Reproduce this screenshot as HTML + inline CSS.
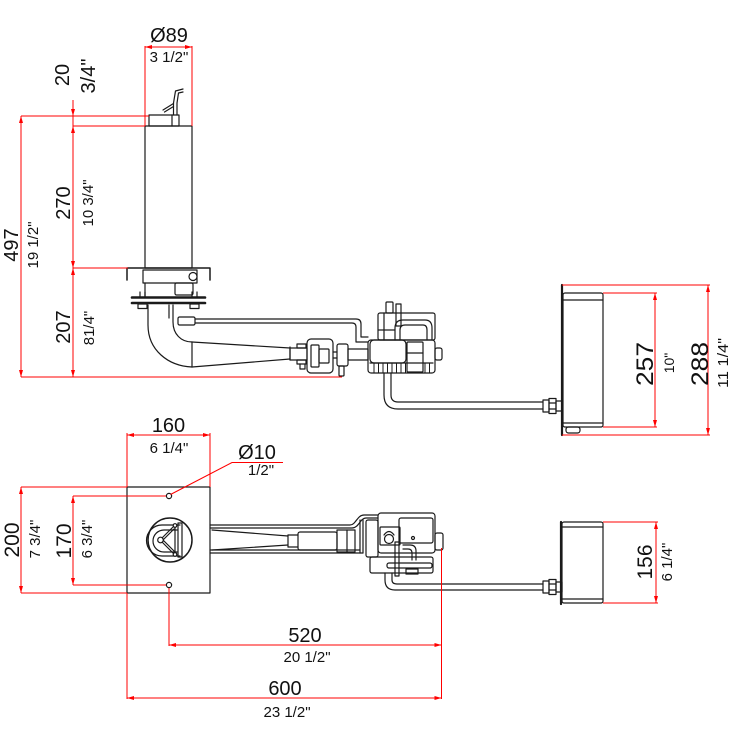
<!DOCTYPE html>
<html><head><meta charset="utf-8"><style>
html,body{margin:0;padding:0;background:#fff;}
svg{display:block;}
text{font-family:"Liberation Sans",Arial,sans-serif;fill:#111;}
</style></head><body>
<svg width="730" height="730" viewBox="0 0 730 730" xmlns="http://www.w3.org/2000/svg">
<rect width="730" height="730" fill="#fff"/>

<!-- ===== TOP VIEW (side elevation) mechanical ===== -->
<g fill="none" stroke="#1a1a1a" stroke-width="1.2" stroke-linejoin="round" stroke-linecap="round">
  <!-- cylinder -->
  <rect x="145" y="126" width="47" height="142"/>
  <!-- cap -->
  <rect x="149" y="115" width="30" height="11"/>
  <line x1="172" y1="115" x2="172" y2="126"/>
  <!-- handle -->
  <path d="M173.5,115 L173.5,103 L175.5,91 L183,89"/>
  <path d="M177,115 L177,103 L178.5,93 L183,92"/>
  <path d="M163,110 L173.5,103.5 M164.5,112 L173.5,106.5"/>
  <!-- flange top plate -->
  <path d="M127,280 L127,268 L210,268 L210,280" stroke-width="1.5"/>
  <!-- collar -->
  <rect x="143" y="270" width="54" height="13"/>
  <circle cx="193" cy="276.5" r="4" fill="#fff"/>
  <rect x="175" y="283" width="18" height="12" rx="1.5"/>
  <line x1="145" y1="283" x2="145" y2="297"/>
  <!-- plates -->
  <line x1="132" y1="297.5" x2="205" y2="297.5" stroke-width="2.6"/>
  <line x1="132" y1="303" x2="205" y2="303" stroke-width="2.6"/>
  <rect x="138" y="304" width="9" height="4.5"/>
  <rect x="190" y="304" width="9" height="4.5"/>
  <line x1="140" y1="292" x2="140" y2="297"/><line x1="145" y1="292" x2="145" y2="297"/>
  <line x1="192" y1="292" x2="192" y2="297"/><line x1="197" y1="292" x2="197" y2="297"/>
  <!-- elbow pipe -->
  <path d="M148,305 L148,325 C148,350 168,366 192,367"/>
  <path d="M173,305 L173,322 C173,334 181,342 192,342"/>
  <line x1="169" y1="305" x2="169" y2="318"/>
  <rect x="178" y="317" width="17" height="8" rx="1.5"/>
  <line x1="192" y1="342" x2="192" y2="367"/>
  <!-- tapered arm -->
  <path d="M192,342 L290,348 M192,367 L290,359"/>
  <line x1="290" y1="347" x2="290" y2="360"/>
  <rect x="290" y="348" width="17" height="12"/>
  <rect x="297" y="344" width="9" height="4"/>
  <rect x="297" y="360" width="9" height="4"/>
  <path d="M300,364 L300,369 L305,369 L305,364"/>
  <!-- coupling box -->
  <rect x="307" y="339" width="26" height="34" rx="4"/>
  <rect x="311" y="345" width="8" height="22" rx="1"/>
  <rect x="319" y="349" width="10" height="14" rx="1"/>
  <line x1="333" y1="352" x2="337" y2="352"/><line x1="333" y1="358" x2="337" y2="358"/>
  <rect x="337" y="344" width="11" height="22" rx="2"/>
  <rect x="339" y="366" width="5" height="10" rx="1"/>
  <rect x="348" y="349" width="20" height="11"/>
  <!-- top pipe -->
  <path d="M195,319 L356,319 Q361,319 361,324 L361,337 L368,337"/>
  <path d="M195,323 L352,323 Q356,323 356,327 L356,342 L368,342"/>
  <!-- valve body -->
  <rect x="368" y="340" width="67" height="33" rx="3"/>
  <rect x="370" y="340" width="36" height="23" rx="4"/>
  <rect x="407" y="342" width="16" height="30" rx="1"/>
  <line x1="407" y1="353" x2="423" y2="353"/>
  <line x1="370" y1="363" x2="433" y2="363"/>
  <path d="M374,363V373 M378.5,363V373 M383,363V373 M387.5,363V373 M392,363V373 M396.5,363V373 M401,363V373 M405.5,363V373 M425,363V373 M429.5,363V373" stroke-width="1"/>
  <!-- valve upper -->
  <rect x="378" y="313" width="57" height="27" rx="2"/>
  <path d="M395,340 L395,328 Q395,320 403,320 L425,320 Q432,320 432,328 L432,340"/>
  <path d="M400,340 L400,330 Q400,325 405,325 L423,325 Q427,325 427,330 L427,340"/>
  <rect x="396" y="304" width="5" height="22"/>
  <rect x="386" y="302" width="7" height="11" rx="1"/>
  <line x1="384" y1="313" x2="384" y2="340"/>
  <line x1="378" y1="330" x2="395" y2="330"/>
  <!-- plug -->
  <rect x="435" y="348" width="7" height="12" rx="2"/>
  <!-- down pipe -->
  <path d="M384,373 L384,395 Q384,409 398,409 L543,409"/>
  <path d="M391,373 L391,395 Q391,402 398,402 L543,402"/>
  <!-- fitting -->
  <rect x="543" y="400" width="6" height="12"/>
  <rect x="549" y="398.5" width="7" height="15"/>
  <line x1="549" y1="403" x2="556" y2="403"/><line x1="549" y1="409" x2="556" y2="409"/>
  <rect x="556" y="401" width="6" height="10"/>
  <!-- right box -->
  <line x1="562" y1="285" x2="562" y2="435" stroke-width="2.2"/>
  <rect x="563" y="293" width="40" height="134" rx="2"/>
  <line x1="563" y1="300" x2="603" y2="300"/>
  <line x1="563" y1="423" x2="603" y2="423"/>
  <rect x="566" y="427" width="14" height="6" rx="2.5"/>
</g>

<!-- ===== PLAN VIEW mechanical ===== -->
<g fill="none" stroke="#1a1a1a" stroke-width="1.2" stroke-linejoin="round" stroke-linecap="round">
  <rect x="127" y="487" width="83" height="106"/>
  <circle cx="169" cy="496" r="2.6"/>
  <circle cx="169" cy="585" r="2.6"/>
  <circle cx="170" cy="540" r="22" stroke-width="1.5"/>
  <!-- D shape -->
  <path d="M180,525 L162,525 A15.5,15.5 0 0 0 162,556 L180,556"/>
  <path d="M177,530 L164,530 A11,11 0 0 0 164,552 L177,552"/>
  <rect x="178" y="523" width="4" height="34"/>
  <!-- triangle -->
  <path d="M175,525 L160,540 L175,555 Z"/>
  <path d="M174,529 L163,540 L174,551"/>
  <circle cx="160.5" cy="540" r="2.8" fill="#fff"/>
  <circle cx="175" cy="525.5" r="1.8" fill="#fff"/>
  <circle cx="175" cy="554.5" r="1.8" fill="#fff"/>
  <!-- arm -->
  <path d="M210,525 L350,525 C356,525 357,515 364,515 L378,515"/>
  <path d="M210,528 L352,528 C359,528 360,518 366,518 L378,518"/>
  <path d="M210,550 L360,550 M210,553 L363,553"/>
  <line x1="360" y1="520" x2="360" y2="553"/>
  <line x1="363" y1="520" x2="363" y2="553"/>
  <path d="M212,530 L288,536 M212,550 L288,545"/>
  <line x1="288" y1="535" x2="288" y2="547"/>
  <path d="M288,535 L298,535 M288,547 L298,547"/>
  <rect x="298" y="532" width="39" height="18" rx="2"/>
  <rect x="337" y="530" width="18" height="22"/>
  <line x1="347" y1="530" x2="347" y2="552"/>
  <!-- valve -->
  <rect x="378" y="513" width="57" height="40" rx="3"/>
  <rect x="399" y="518" width="34" height="25" rx="2"/>
  <circle cx="413" cy="538" r="1.5"/>
  <rect x="366" y="520" width="12" height="37" rx="2"/>
  <rect x="380" y="527" width="20" height="18" rx="1"/>
  <circle cx="389" cy="539" r="4.5"/>
  <path d="M384,535 Q389,528 394,535"/>
  <rect x="395" y="542" width="4" height="34"/>
  <path d="M403,545 L410,545 Q416,545 416,551 L416,560"/>
  <path d="M403,549 L408,549 Q412,549 412,553 L412,560"/>
  <rect x="370" y="557" width="63" height="16" rx="2"/>
  <rect x="387" y="563" width="45" height="5" rx="2"/>
  <rect x="406" y="569" width="12" height="5"/>
  <rect x="435" y="533" width="8" height="17" rx="2"/>
  <!-- pipe -->
  <path d="M385,573 L385,580 Q385,590 395,590 L543,590"/>
  <path d="M392,573 L392,580 Q392,584 397,584 L543,584"/>
  <rect x="543" y="581" width="6" height="12"/>
  <rect x="549" y="579.5" width="7" height="15"/>
  <line x1="549" y1="584" x2="556" y2="584"/><line x1="549" y1="590" x2="556" y2="590"/>
  <rect x="556" y="582" width="6" height="10"/>
  <!-- right box -->
  <line x1="561" y1="522" x2="561" y2="604" stroke-width="2.2"/>
  <rect x="562" y="522" width="41" height="81" rx="2"/>
  <line x1="562" y1="527" x2="603" y2="527"/>
  <line x1="562" y1="599" x2="603" y2="599"/>
</g>

<!-- ===== RED DIMENSION LINES ===== -->
<g stroke="#ff0000" stroke-width="1" fill="none">
  <!-- top view -->
  <line x1="145" y1="46" x2="145" y2="126"/>
  <line x1="192" y1="46" x2="192" y2="126"/>
  <line x1="145" y1="47" x2="192" y2="47"/>
  <line x1="21" y1="116" x2="149" y2="116"/>
  <line x1="73" y1="126" x2="145" y2="126"/>
  <line x1="73" y1="100" x2="73" y2="377"/>
  <line x1="73" y1="268" x2="128" y2="268"/>
  <line x1="21" y1="377" x2="342" y2="377"/>
  <line x1="21" y1="116" x2="21" y2="377"/>
  <line x1="562" y1="285" x2="710" y2="285"/>
  <line x1="603" y1="293" x2="657" y2="293"/>
  <line x1="603" y1="427" x2="657" y2="427"/>
  <line x1="562" y1="435" x2="710" y2="435"/>
  <line x1="655" y1="293" x2="655" y2="427"/>
  <line x1="708" y1="285" x2="708" y2="435"/>
  <!-- plan view -->
  <line x1="127" y1="433" x2="127" y2="487"/>
  <line x1="127" y1="593" x2="127" y2="699"/>
  <line x1="210" y1="433" x2="210" y2="487"/>
  <line x1="127" y1="435" x2="210" y2="435"/>
  <line x1="21" y1="487" x2="127" y2="487"/>
  <line x1="21" y1="593" x2="127" y2="593"/>
  <line x1="73" y1="496" x2="166" y2="496"/>
  <line x1="73" y1="585" x2="166" y2="585"/>
  <line x1="21" y1="487" x2="21" y2="593"/>
  <line x1="73" y1="496" x2="73" y2="585"/>
  <line x1="169" y1="588" x2="169" y2="646"/>
  <line x1="441.5" y1="548" x2="441.5" y2="699"/>
  <line x1="169" y1="645" x2="441.5" y2="645"/>
  <line x1="127" y1="698" x2="441.5" y2="698"/>
  <polyline points="170.5,494.5 232,462.5 283,462.5"/>
  <line x1="603" y1="522" x2="658" y2="522"/>
  <line x1="603" y1="603" x2="658" y2="603"/>
  <line x1="656" y1="522" x2="656" y2="603"/>
</g>
<g fill="#ff0000" stroke="none">
  <!-- Ø89 -->
  <polygon points="145,47 152,45 152,49"/>
  <polygon points="192,47 185,45 185,49"/>
  <!-- x=73 -->
  <polygon points="73,116 71,109 75,109"/>
  <polygon points="73,126 71,133 75,133"/>
  <polygon points="73,268 71,261 75,261"/>
  <polygon points="73,268 71,275 75,275"/>
  <polygon points="73,377 71,370 75,370"/>
  <!-- x=21 -->
  <polygon points="21,116 19,123 23,123"/>
  <polygon points="21,377 19,370 23,370"/>
  <!-- right top -->
  <polygon points="655,293 653,300 657,300"/>
  <polygon points="655,427 653,420 657,420"/>
  <polygon points="708,285 706,292 710,292"/>
  <polygon points="708,435 706,428 710,428"/>
  <!-- 160 -->
  <polygon points="127,435 134,433 134,437"/>
  <polygon points="210,435 203,433 203,437"/>
  <!-- 200 / 170 -->
  <polygon points="21,487 19,494 23,494"/>
  <polygon points="21,593 19,586 23,586"/>
  <polygon points="73,496 71,503 75,503"/>
  <polygon points="73,585 71,578 75,578"/>
  <!-- 156 -->
  <polygon points="656,522 654,529 658,529"/>
  <polygon points="656,603 654,596 658,596"/>
  <!-- 520 / 600 -->
  <polygon points="169,645 176,643 176,647"/>
  <polygon points="441.5,645 434.5,643 434.5,647"/>
  <polygon points="127,698 134,696 134,700"/>
  <polygon points="441.5,698 434.5,696 434.5,700"/>
</g>

<!-- ===== TEXT ===== -->
<g text-anchor="middle">
  <text x="169" y="42" font-size="20">Ø89</text>
  <text x="169" y="62" font-size="15">3 1/2"</text>
  <text x="168.5" y="432" font-size="20">160</text>
  <text x="169" y="453" font-size="15">6 1/4"</text>
  <text x="257" y="459" font-size="20">Ø10</text>
  <text x="261" y="475" font-size="15">1/2"</text>
  <text x="305" y="642" font-size="20">520</text>
  <text x="307" y="662" font-size="15">20 1/2"</text>
  <text x="285" y="695" font-size="20">600</text>
  <text x="287" y="717" font-size="15">23 1/2"</text>

  <!-- rotated -->
  <text transform="translate(62,75) rotate(-90)" dy="7" font-size="20">20</text>
  <text transform="translate(88,76) rotate(-90)" dy="7" font-size="20">3/4"</text>
  <text transform="translate(11,245) rotate(-90)" dy="7" font-size="20">497</text>
  <text transform="translate(33,245) rotate(-90)" dy="5" font-size="15">19 1/2"</text>
  <text transform="translate(63,203) rotate(-90)" dy="7" font-size="20">270</text>
  <text transform="translate(88,203) rotate(-90)" dy="5" font-size="15">10 3/4"</text>
  <text transform="translate(63,327) rotate(-90)" dy="7" font-size="20">207</text>
  <text transform="translate(89,328) rotate(-90)" dy="5" font-size="15">81/4"</text>
  <text transform="translate(645,364) rotate(-90)" dy="8" font-size="24" textLength="44" lengthAdjust="spacingAndGlyphs">257</text>
  <text transform="translate(669,363) rotate(-90)" dy="5" font-size="14">10"</text>
  <text transform="translate(700,364) rotate(-90)" dy="8" font-size="24" textLength="44" lengthAdjust="spacingAndGlyphs">288</text>
  <text transform="translate(723,363) rotate(-90)" dy="5" font-size="15" textLength="50" lengthAdjust="spacingAndGlyphs">11 1/4"</text>
  <text transform="translate(12,540) rotate(-90)" dy="7" font-size="21">200</text>
  <text transform="translate(35,539) rotate(-90)" dy="5" font-size="15">7 3/4"</text>
  <text transform="translate(64,541) rotate(-90)" dy="7" font-size="21">170</text>
  <text transform="translate(87,539) rotate(-90)" dy="5" font-size="15">6 3/4"</text>
  <text transform="translate(645,562) rotate(-90)" dy="7" font-size="21">156</text>
  <text transform="translate(667,562) rotate(-90)" dy="5" font-size="15">6 1/4"</text>
</g>
</svg>
</body></html>
